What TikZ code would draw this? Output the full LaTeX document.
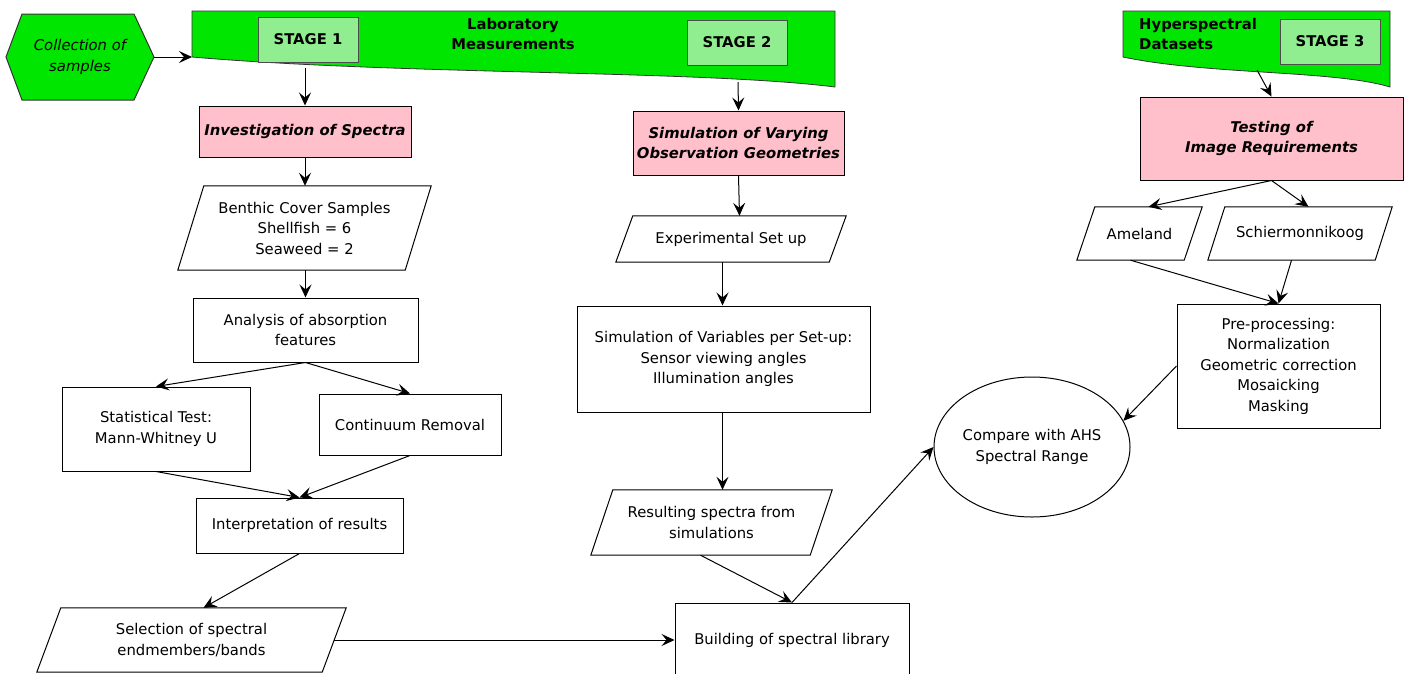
\documentclass[tikz,border=0pt]{standalone}
\usepackage{fontspec}
\setmainfont{DejaVu Sans}
\usetikzlibrary{shapes.geometric,arrows.meta,calc}

\definecolor{bannergreen}{RGB}{0,230,0}
\definecolor{stagegreen}{RGB}{144,238,144}
\definecolor{boxpink}{RGB}{255,192,203}
\newcommand{\diafont}{\fontsize{14.8}{20.5}\selectfont}

\tikzset{
  box/.style={draw, line width=1pt, align=center, inner sep=1pt, font=\diafont},
  pinkbox/.style={box, fill=boxpink, font=\diafont\bfseries\itshape},
  % slanted data box, #1 = slant
  para/.style={rectangle, align=center, inner sep=1pt, font=\diafont,
    append after command={\pgfextra{
      \draw[line width=1pt] ($(\tikzlastnode.north west)+(#1,0)$) -- (\tikzlastnode.north east)
        -- ($(\tikzlastnode.south east)-(#1,0)$) -- (\tikzlastnode.south west) -- cycle;
      \coordinate (\tikzlastnode-top) at ($(\tikzlastnode.north)+(#1/2,0)$);
      \coordinate (\tikzlastnode-bot) at ($(\tikzlastnode.south)-(#1/2,0)$);
      \coordinate (\tikzlastnode-right) at ($(\tikzlastnode.east)-(#1/2,0)$);
    }}},
  stagebox/.style={draw=black!70, fill=stagegreen, line width=1pt,
    minimum width=100pt, minimum height=45pt, font=\diafont\bfseries},
  banner/.style={draw=black!80, fill=bannergreen, line width=0.8pt},
  flow/.style={->, line width=1pt}
}

\begin{document}
\begin{tikzpicture}[x=1pt, y=-1pt, >={Stealth[length=13pt,width=12pt,inset=5pt]}]
  \useasboundingbox (0,0) rectangle (1410,673);

  % green banners
  \draw[banner] (192,11) -- (835,11) -- (835,87)
    .. controls (700,70) and (400,75) .. (192,57) -- cycle;
  \draw[banner] (1123,11) -- (1390,11) -- (1390,87)
    .. controls (1334,70) and (1209,75) .. (1123,57) -- cycle;
  \coordinate (lab) at (192,57);
  \coordinate (lab1) at (305,68);
  \coordinate (lab2) at (738,82);
  \coordinate (hyp) at (1257,70);

  \node[font=\diafont\bfseries, align=center, inner sep=0pt] (labtitle) at (513,34) {Laboratory\\Measurements};
  \node[font=\diafont\bfseries, align=left, anchor=west, inner sep=0pt] (hyptitle) at (1139,34) {Hyperspectral\\Datasets};
  \node[stagebox] (stage1) at (308,39.5) {STAGE 1};
  \node[stagebox] (stage2) at (737,42.5) {STAGE 2};
  \node[stagebox] (stage3) at (1330,41.5) {STAGE 3};

  % collection of samples (hexagon)
  \draw[banner, line width=1pt] (6,57) -- (22,14) -- (134,14) -- (154,57) -- (134,100) -- (22,100) -- cycle;
  \node[align=center, inner sep=0pt, font=\diafont\itshape] (collect) at (80,57) {Collection of\\samples};
  \coordinate (collectR) at (154,57);

  % stage 1
  \node[pinkbox, minimum width=212pt, minimum height=51pt] (invest) at (305,131.5) {Investigation of Spectra};
  \node[para=26, minimum width=253pt, minimum height=84pt] (benthic) at (304.5,228) {Benthic Cover Samples\\Shellfish = 6\\Seaweed = 2};
  \node[box, minimum width=225pt, minimum height=64pt] (analysis) at (305.5,330) {Analysis of absorption\\features};
  \node[box, minimum width=188pt, minimum height=84pt] (stat) at (156,429) {Statistical Test:\\Mann-Whitney U};
  \node[box, minimum width=182pt, minimum height=61pt] (cont) at (410,424.5) {Continuum Removal};
  \node[box, minimum width=207pt, minimum height=55pt] (interp) at (299.5,525.5) {Interpretation of results};
  \node[para=24, minimum width=309pt, minimum height=64pt] (select) at (191.5,640) {Selection of spectral\\endmembers/bands};

  % stage 2
  \node[pinkbox, minimum width=211pt, minimum height=64pt] (simobs) at (738.5,143) {Simulation of Varying\\Observation Geometries};
  \node[para=17, minimum width=230pt, minimum height=46pt] (exper) at (731,239) {Experimental Set up};
  \node[box, minimum width=293pt, minimum height=106pt] (simvar) at (723.5,359) {Simulation of Variables per Set-up:\\Sensor viewing angles\\Illumination angles};
  \node[para=22, minimum width=241pt, minimum height=65pt] (result) at (711.5,522.5) {Resulting spectra from\\simulations};
  \node[box, minimum width=234pt, minimum height=74pt] (build) at (792,640) {Building of spectral library};

  % stage 3
  \node[pinkbox, minimum width=263pt, minimum height=83pt] (test) at (1271.5,138.5) {Testing of\\Image Requirements};
  \node[para=18, minimum width=125pt, minimum height=53pt] (amel) at (1139.5,233.5) {Ameland};
  \node[para=17, minimum width=184pt, minimum height=53pt] (schier) at (1300,233.5) {Schiermonnikoog};
  \node[box, minimum width=203pt, minimum height=124pt] (prep) at (1278.5,366) {Pre-processing:\\Normalization\\Geometric correction\\Mosaicking\\Masking};
  \node[ellipse, draw, line width=1pt, minimum width=179pt, minimum height=140pt,
    inner sep=0pt, align=center, font=\diafont] (compare) at (1032,447) {Compare with AHS\\Spectral Range};

  % connectors
  \draw[flow] (collectR) -- (lab);
  \draw[flow] (lab1) -- (invest.north);
  \draw[flow] (lab2) -- (simobs.north);
  \draw[flow] (hyp) -- (test.north);

  \draw[flow] (invest.south) -- (invest.south |- benthic.north);
  \draw[flow] (analysis.north |- benthic.south) -- (analysis.north);
  \draw[flow] (analysis.south) -- (stat.north);
  \draw[flow] (analysis.south) -- (cont.north);
  \draw[flow] (stat.south) -- (interp.north);
  \draw[flow] (cont.south) -- (interp.north);
  \draw[flow] (interp.south) -- (select-top);
  \draw[flow] (select-right) -- (build.west);

  \draw[flow] (simobs.south) -- (exper-top);
  \draw[flow] (exper-bot) -- (exper-bot |- simvar.north);
  \draw[flow] (result-top |- simvar.south) -- (result-top);
  \draw[flow] (result-bot) -- (build.north);
  \draw[flow] (build.north) -- (compare.west);

  \draw[flow] (test.south) -- (amel-top);
  \draw[flow] (test.south) -- (schier-top);
  \draw[flow] (amel-bot) -- (prep.north);
  \draw[flow] (schier-bot) -- (prep.north);
  \draw[flow] (prep.west) -- (compare.16);
\end{tikzpicture}
\end{document}
